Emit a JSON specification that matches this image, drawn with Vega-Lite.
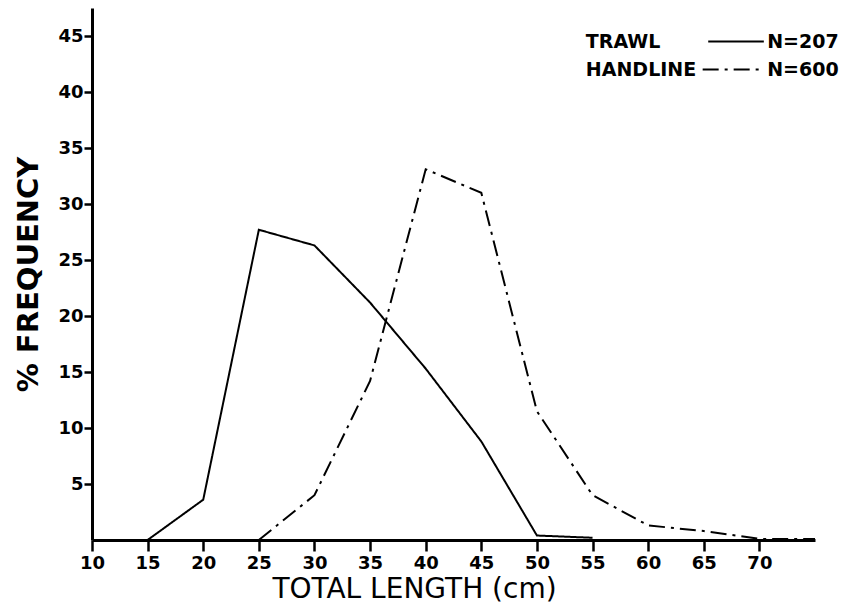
{
  "$schema": "https://vega.github.io/schema/vega-lite/v6.json",
  "autosize": {"type": "none"},
  "padding": {"left": 92, "top": 8, "right": 44, "bottom": 69},
  "width": 723,
  "height": 532,
  "background": "white",
  "config": {"view": {"stroke": null}, "font": "DejaVu Sans"},
  "datasets": {
    "freq": [
      {"series": "TRAWL", "length": 15, "pct": 0},
      {"series": "TRAWL", "length": 20, "pct": 3.6},
      {"series": "TRAWL", "length": 25, "pct": 27.7},
      {"series": "TRAWL", "length": 30, "pct": 26.3},
      {"series": "TRAWL", "length": 35, "pct": 21.2},
      {"series": "TRAWL", "length": 40, "pct": 15.3},
      {"series": "TRAWL", "length": 45, "pct": 8.8},
      {"series": "TRAWL", "length": 50, "pct": 0.4},
      {"series": "TRAWL", "length": 55, "pct": 0.2},
      {"series": "HANDLINE", "length": 25, "pct": 0},
      {"series": "HANDLINE", "length": 30, "pct": 4.0},
      {"series": "HANDLINE", "length": 35, "pct": 14.2},
      {"series": "HANDLINE", "length": 40, "pct": 33.1},
      {"series": "HANDLINE", "length": 45, "pct": 31.0},
      {"series": "HANDLINE", "length": 50, "pct": 11.5},
      {"series": "HANDLINE", "length": 55, "pct": 4.0},
      {"series": "HANDLINE", "length": 60, "pct": 1.3},
      {"series": "HANDLINE", "length": 65, "pct": 0.8},
      {"series": "HANDLINE", "length": 70, "pct": 0.1},
      {"series": "HANDLINE", "length": 75, "pct": 0.1}
    ],
    "legendText": [
      {"label": "TRAWL", "x": 54.4, "y": 44.5},
      {"label": "HANDLINE", "x": 54.4, "y": 42.0},
      {"label": "N=207", "x": 70.7, "y": 44.5},
      {"label": "N=600", "x": 70.7, "y": 42.0}
    ],
    "legendLines": [
      {"series": "TRAWL", "x": 65.4, "x2": 70.4, "y": 44.5},
      {"series": "HANDLINE", "x": 64.9, "x2": 70.4, "y": 42.0}
    ]
  },
  "layer": [
    {
      "data": {"name": "freq"},
      "mark": {"type": "line", "color": "black", "strokeWidth": 2},
      "encoding": {
        "x": {
          "field": "length", "type": "quantitative",
          "scale": {"domain": [10, 75], "nice": false, "zero": false},
          "axis": {
            "values": [10, 15, 20, 25, 30, 35, 40, 45, 50, 55, 60, 65, 70],
            "title": "TOTAL LENGTH (cm)",
            "titleFontSize": 28, "titleFontWeight": "normal", "titleColor": "black",
            "titleX": 322, "titlePadding": 3,
            "labelFontSize": 18, "labelColor": "black", "labelFontWeight": "bold",
            "labelFlush": false,
            "domainColor": "black", "domainWidth": 3,
            "tickColor": "black", "tickWidth": 2.5, "tickSize": 11,
            "labelPadding": 3, "grid": false
          }
        },
        "y": {
          "field": "pct", "type": "quantitative",
          "scale": {"domain": [0, 47.5], "nice": false},
          "axis": {
            "values": [5, 10, 15, 20, 25, 30, 35, 40, 45],
            "title": "% FREQUENCY",
            "titleFontSize": 29, "titleFontWeight": "bold", "titleColor": "black",
            "titlePadding": 14,
            "labelFontSize": 18, "labelColor": "black", "labelFontWeight": "bold",
            "domainColor": "black", "domainWidth": 3,
            "tickColor": "black", "tickWidth": 2.5, "tickSize": 8,
            "labelPadding": 1, "grid": false
          }
        },
        "detail": {"field": "series"},
        "strokeDash": {
          "field": "series", "type": "nominal",
          "scale": {"domain": ["TRAWL", "HANDLINE"], "range": [[1, 0], [16, 6, 3, 6]]},
          "legend": null
        }
      }
    },
    {
      "data": {"name": "legendLines"},
      "mark": {"type": "rule", "color": "black", "strokeWidth": 2, "clip": false},
      "encoding": {
        "x": {"field": "x", "type": "quantitative"},
        "x2": {"field": "x2"},
        "y": {"field": "y", "type": "quantitative"},
        "strokeDash": {
          "field": "series", "type": "nominal",
          "scale": {"domain": ["TRAWL", "HANDLINE"], "range": [[1, 0], [16, 6, 3, 6]]},
          "legend": null
        }
      }
    },
    {
      "data": {"name": "legendText"},
      "mark": {"type": "text", "align": "left", "baseline": "middle", "fontSize": 19, "fontWeight": "bold", "color": "black", "clip": false},
      "encoding": {
        "x": {"field": "x", "type": "quantitative"},
        "y": {"field": "y", "type": "quantitative"},
        "text": {"field": "label"}
      }
    }
  ]
}
